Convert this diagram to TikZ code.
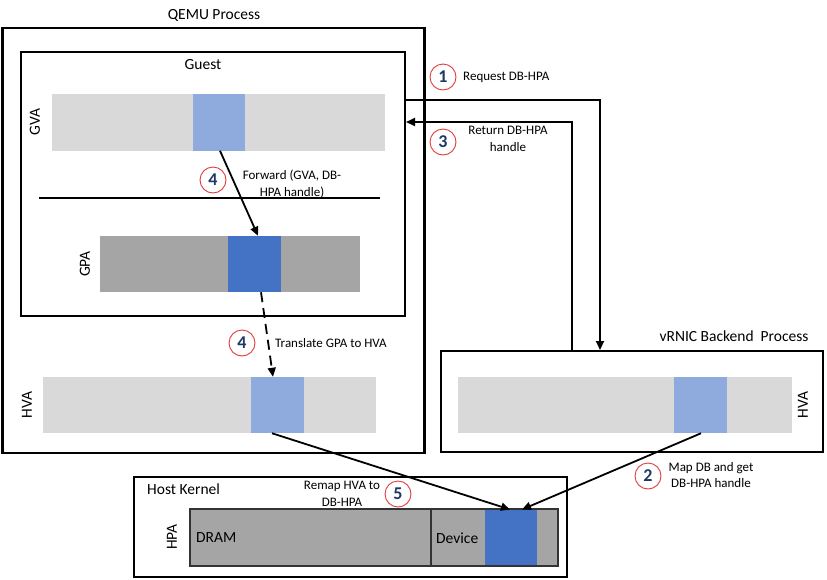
\documentclass[tikz,border=0pt]{standalone}
\usepackage{fontspec}
\setmainfont{Carlito}
\usetikzlibrary{arrows.meta}
\definecolor{lgray}{HTML}{D9D9D9}
\definecolor{mgray}{HTML}{A5A5A5}
\definecolor{lblue}{HTML}{8FAADC}
\definecolor{dblue}{HTML}{4472C4}
\definecolor{numred}{HTML}{E03A3A}
\definecolor{numblue}{HTML}{1F3864}
\tikzset{
  bigtxt/.style={font=\fontsize{15.5}{18}\selectfont, inner sep=0pt},
  smalltxt/.style={font=\fontsize{13}{16.5}\selectfont, inner sep=0pt, align=center},
  procbox/.style={draw, line width=2pt},
  bar/.style={inner sep=0pt, outer sep=0pt, minimum height=56.5pt},
  stepnum/.style={circle, draw=numred, line width=0.9pt, minimum size=26pt, inner sep=0pt,
    text=numblue, font=\fontsize{18}{18}\selectfont\bfseries},
  conn/.style={line width=1.8pt, -{Triangle[length=9pt,width=8pt]}},
  vlabel/.style={bigtxt, rotate=90}
}
\begin{document}
\begin{tikzpicture}[x=1pt,y=-1pt]
\useasboundingbox (0,0) rectangle (827,579);
% process boxes
\node[procbox, line width=2.5pt, minimum width=422pt, minimum height=425pt, inner sep=0pt] (qemu) at (213.5,240.5) {};
\node[bigtxt] (qemut) at (214,15) {QEMU Process};
\node[procbox, minimum width=384pt, minimum height=264pt, inner sep=0pt] (guest) at (213,184) {};
\node[bigtxt] (guestt) at (203,65) {Guest};
\node[procbox, minimum width=382pt, minimum height=101pt, inner sep=0pt] (vrnic) at (632,401.5) {};
\node[bigtxt] (vrnict) at (734,336) {vRNIC Backend\ \ Process};
\node[draw, line width=1.6pt, minimum width=433pt, minimum height=100pt, inner sep=0pt] (host) at (350.5,527) {};
\node[bigtxt, anchor=west] (hostt) at (147,489) {Host Kernel};
% GVA
\node[bar, fill=lgray, minimum width=333pt] (gva) at (218.5,122.5) {};
\node[bar, fill=lblue, minimum width=52pt] (gvablk) at (219,122.5) {};
\node[vlabel] (gvat) at (35,122) {GVA};
% separator
\coordinate (sepl) at (39,198);
\coordinate (sepr) at (380,198);
\draw[line width=1.5pt] (sepl) -- (sepr);
% GPA
\node[bar, fill=mgray, minimum width=260pt] (gpa) at (230,264) {};
\node[bar, fill=dblue, minimum width=53pt] (gpablk) at (254.5,264) {};
\node[vlabel] (gpat) at (85,264) {GPA};
% HVA (QEMU)
\node[bar, fill=lgray, minimum width=333pt] (hva) at (209.5,405) {};
\node[bar, fill=lblue, minimum width=53pt] (hvablk) at (277.5,405) {};
\node[vlabel] (hvat) at (27,405) {HVA};
% HVA (vRNIC)
\node[bar, fill=lgray, minimum width=334pt] (vhva) at (624.5,405) {};
\node[bar, fill=lblue, minimum width=53pt] (vhvablk) at (700.5,405) {};
\node[vlabel] (vhvat) at (803,405) {HVA};
% HPA
\node[bar, fill=mgray, draw=black!80, line width=1.4pt, minimum width=368pt, minimum height=57pt] (hpa) at (374,537.5) {};
\coordinate (divt) at (431,509);
\coordinate (divb) at (431,566);
\draw[line width=1.4pt, black!80] (divt) -- (divb);
\node[bar, fill=dblue, minimum width=52pt, minimum height=56pt] (devblk) at (511,537.5) {};
\draw[line width=1.4pt, black!80] (hpa.north west) rectangle (hpa.south east);
\node[vlabel] (hpat) at (172,537) {HPA};
\node[bigtxt, anchor=west] (dram) at (196,538) {DRAM};
\node[bigtxt, anchor=west] (devt) at (436,538) {Device};
% connectors
\draw[conn] ([xshift=1pt]gvablk.south) -- ([xshift=3.5pt]gpablk.north);
\draw[conn, dash pattern=on 10pt off 6pt] ([xshift=6.5pt]gpablk.south) -- ([xshift=-4.5pt]hvablk.north);
\draw[conn] ([xshift=-5.5pt]hvablk.south) -- ([xshift=-1pt]devblk.north);
\draw[conn] ([xshift=0.5pt]vhvablk.south) -- ([xshift=11pt]devblk.north);
\coordinate (r1) at (600,100);
\coordinate (r3) at (572,122);
\draw[conn] (guest.east |- r1) -| (vrnic.north -| r1);
\draw[conn] (vrnic.north -| r3) |- (guest.east |- r3);
% step labels
\node[stepnum] (s4a) at (213,180) {4};
\node[smalltxt] (fwd) at (292,184) {Forward (GVA, DB-\\HPA handle)};
\node[stepnum] (s4b) at (242,343) {4};
\node[smalltxt, anchor=west] (trans) at (275,343) {Translate GPA to HVA};
\node[stepnum] (s1) at (443,77) {1};
\node[smalltxt, anchor=west] (req) at (463,77) {Request DB-HPA};
\node[stepnum] (s3) at (443,142) {3};
\node[smalltxt] (ret) at (508,139) {Return DB-HPA\\handle};
\node[stepnum] (s2) at (648,476) {2};
\node[smalltxt] (map) at (711,475) {Map DB and get\\DB-HPA handle};
\node[smalltxt] (remap) at (342,494) {Remap HVA to\\DB-HPA};
\node[stepnum] (s5) at (398,494) {5};
\end{tikzpicture}
\end{document}
